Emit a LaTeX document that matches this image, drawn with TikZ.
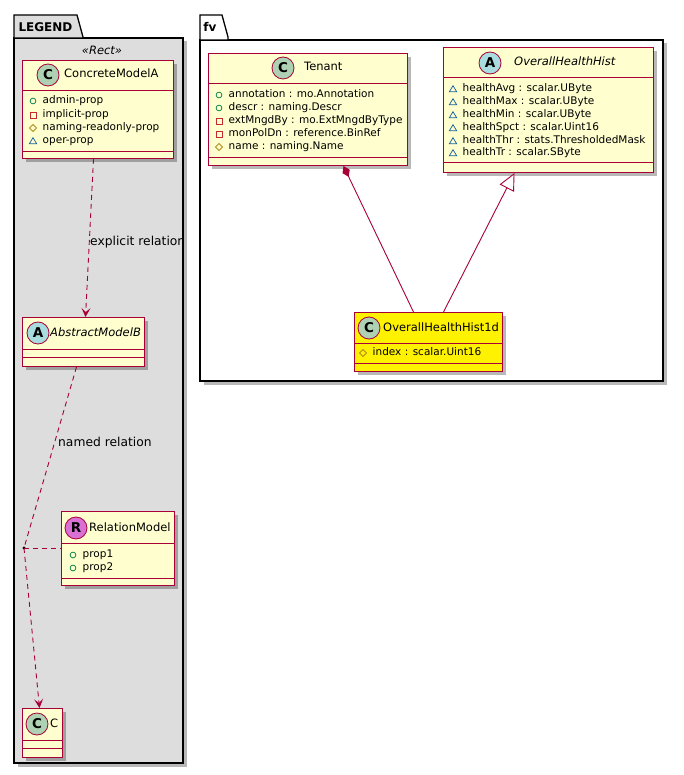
\documentclass[tikz,border=0pt]{standalone}
\usepackage{fontspec}
\setmainfont{DejaVu Sans}
\usetikzlibrary{arrows.meta,shadows}
\definecolor{cfill}{HTML}{FEFECE}
\definecolor{cline}{HTML}{A80036}
\definecolor{pkgfill}{HTML}{DDDDDD}
\definecolor{spotC}{HTML}{ADD1B2}
\definecolor{spotA}{HTML}{A9DCDF}
\definecolor{spotR}{HTML}{DA70D6}
\definecolor{vpubc}{HTML}{038048}
\definecolor{vprivc}{HTML}{C82930}
\definecolor{vprotc}{HTML}{B38D22}
\definecolor{vpkgc}{HTML}{1963A0}
\newcommand\attrline[5]{%
  \pic at (#1,#2) {#3};
  \node[attr] (#5) at (#1+9.5,#2) {#4};}
\begin{document}
\begin{tikzpicture}[x=1pt,y=-1pt,
  shadowed/.style={drop shadow={shadow xshift=3.5pt,shadow yshift=-3.5pt,fill=black,opacity=0.28}},
  classbox/.style={draw=cline,fill=cfill,line width=1pt,anchor=north west,inner sep=0,shadowed},
  sepline/.style={draw=cline,line width=1pt},
  spot/.style={circle,draw=cline,line width=0.8pt,minimum size=22,inner sep=0,font=\bfseries\fontsize{13.5}{13.5}\selectfont},
  cname/.style={anchor=west,inner sep=0,text height=8.5pt,text depth=2.5pt,font=\fontsize{11.5}{13}\selectfont},
  aname/.style={cname,font=\itshape\fontsize{11.5}{13}\selectfont},
  attr/.style={anchor=west,inner sep=0,text height=7.8pt,text depth=2.4pt,font=\fontsize{10.5}{12}\selectfont},
  pkg/.style={draw=black,line width=1.3pt},
  rel/.style={draw=cline,line width=0.9pt},
  dsh/.style={rel,dash pattern=on 5pt off 4pt},
  lbl/.style={anchor=west,inner sep=0,font=\fontsize{12.3}{13}\selectfont},
  vpub/.pic={\draw[vpubc,line width=0.75pt] (0,0) circle (2.9);},
  vpriv/.pic={\draw[vprivc,line width=0.75pt] (-2.9,-2.9) rectangle (2.9,2.9);},
  vprot/.pic={\draw[vprotc,line width=0.75pt] (-3.5,0)--(0,-3.5)--(3.5,0)--(0,3.5)--cycle;},
  vpkg/.pic={\draw[vpkgc,line width=0.75pt] (-3.7,2.8)--(3.7,2.8)--(0,-3.3)--cycle;},
  vee/.tip={Stealth[length=9pt,width=9pt,inset=4pt]}
]
\useasboundingbox (0,0) rectangle (683,775);
% ---------------- packages ----------------
\path[pkg,fill=pkgfill,shadowed] (14,38) rectangle (183,763);
\path[pkg,fill=pkgfill] (14,38) -- (14,15) -- (77,15) -- (83,37) -- (83,38) -- cycle;
\node[inner sep=0,font=\bfseries\fontsize{12}{13}\selectfont] (legendlbl) at (45.5,27) {LEGEND};
\node[inner sep=0,font=\itshape\fontsize{11.5}{13}\selectfont] (rectlbl) at (102,50) {«Rect»};

\path[pkg,fill=white,shadowed] (200,40) rectangle (663,381);
\path[pkg,fill=white] (200,40) -- (200,15) -- (222,15) -- (228,37) -- (228,40) -- cycle;
\node[inner sep=0,font=\bfseries\fontsize{12}{13}\selectfont] (fvlbl) at (210,27) {fv};

% ---------------- LEGEND classes ----------------
\node[classbox,minimum width=151,minimum height=98] (cma) at (22,60) {};
\draw[sepline] (22,91) -- (173,91) (22,152) -- (173,152);
\node[spot,fill=spotC] (cmaS) at (48,75) {C};
\node[cname] (cmaN) at (64,75) {ConcreteModelA};
\attrline{33}{101}{vpub}{admin-prop}{cma1}
\attrline{33}{115}{vpriv}{implicit-prop}{cma2}
\attrline{33}{128}{vprot}{naming-readonly-prop}{cma3}
\attrline{33}{141}{vpkg}{oper-prop}{cma4}

\node[classbox,minimum width=122,minimum height=49] (amb) at (22,317) {};
\draw[sepline] (22,349) -- (144,349) (22,357) -- (144,357);
\node[spot,fill=spotA] (ambS) at (38,333) {A};
\node[aname] (ambN) at (50,333) {AbstractModelB};

\node[classbox,minimum width=113,minimum height=74] (rm) at (61,511) {};
\draw[sepline] (61,543) -- (174,543) (61,578) -- (174,578);
\node[spot,fill=spotR] (rmS) at (76,528) {R};
\node[cname] (rmN) at (89,528) {RelationModel};
\attrline{73}{555}{vpub}{prop1}{rm1}
\attrline{73}{568}{vpub}{prop2}{rm2}

\node[classbox,minimum width=40,minimum height=49] (cc) at (22,708) {};
\draw[sepline] (22,740) -- (62,740) (22,748) -- (62,748);
\node[spot,fill=spotC] (ccS) at (37,724) {C};
\node[cname] (ccN) at (50,724) {C};

% ---------------- fv classes ----------------
\node[classbox,minimum width=199,minimum height=112] (ten) at (208,53) {};
\draw[sepline] (208,84) -- (407,84) (208,158) -- (407,158);
\node[spot,fill=spotC] (tenS) at (283,68) {C};
\node[cname] (tenN) at (304,68) {Tenant};
\attrline{219}{95}{vpub}{annotation : mo.Annotation}{ten1}
\attrline{219}{108}{vpub}{descr : naming.Descr}{ten2}
\attrline{219}{121}{vpriv}{extMngdBy : mo.ExtMngdByType}{ten3}
\attrline{219}{134}{vpriv}{monPolDn : reference.BinRef}{ten4}
\attrline{219}{147}{vprot}{name : naming.Name}{ten5}

\node[classbox,minimum width=210,minimum height=125] (ohh) at (443,47) {};
\draw[sepline] (443,78) -- (653,78) (443,163) -- (653,163);
\node[spot,fill=spotA] (ohhS) at (490,63) {A};
\node[aname] (ohhN) at (514,63) {OverallHealthHist};
\attrline{453}{89}{vpkg}{healthAvg : scalar.UByte}{ohh1}
\attrline{453}{102}{vpkg}{healthMax : scalar.UByte}{ohh2}
\attrline{453}{115}{vpkg}{healthMin : scalar.UByte}{ohh3}
\attrline{453}{128}{vpkg}{healthSpct : scalar.Uint16}{ohh4}
\attrline{453}{141}{vpkg}{healthThr : stats.ThresholdedMask}{ohh5}
\attrline{453}{153}{vpkg}{healthTr : scalar.SByte}{ohh6}

\node[classbox,fill=yellow,minimum width=148,minimum height=59] (hd) at (354,312) {};
\draw[sepline] (354,343) -- (502,343) (354,363) -- (502,363);
\node[spot,fill=spotC] (hdS) at (369,328) {C};
\node[cname] (hdN) at (383,328) {OverallHealthHist1d};
\attrline{363}{353}{vprot}{index : scalar.Uint16}{hd1}

% ---------------- connectors ----------------
\draw[dsh,-{vee}] ([xshift=-4.5]cma.south) -- ([xshift=2]amb.north);
\node[lbl] (l1) at (90,242) {explicit relation};

\node[circle,fill=black,inner sep=0,minimum size=3.4] (dot) at (24,548) {};
\draw[dsh] ([xshift=-7]amb.south) -- (dot.center);
\draw[dsh,-{vee}] (dot.center) -- ([xshift=-3]cc.north);
\draw[dsh] (dot.center) -- (rm.west |- dot);
\node[lbl] (l2) at (58,442) {named relation};

\draw[rel,{Diamond[length=12pt,width=8pt]}-] ([xshift=35.5]ten.south) -- ([xshift=-15]hd.north);
\draw[rel,-{Triangle[open,length=17pt,width=16pt,fill=white]}] ([xshift=15]hd.north) -- ([xshift=-34]ohh.south);
\end{tikzpicture}
\end{document}
